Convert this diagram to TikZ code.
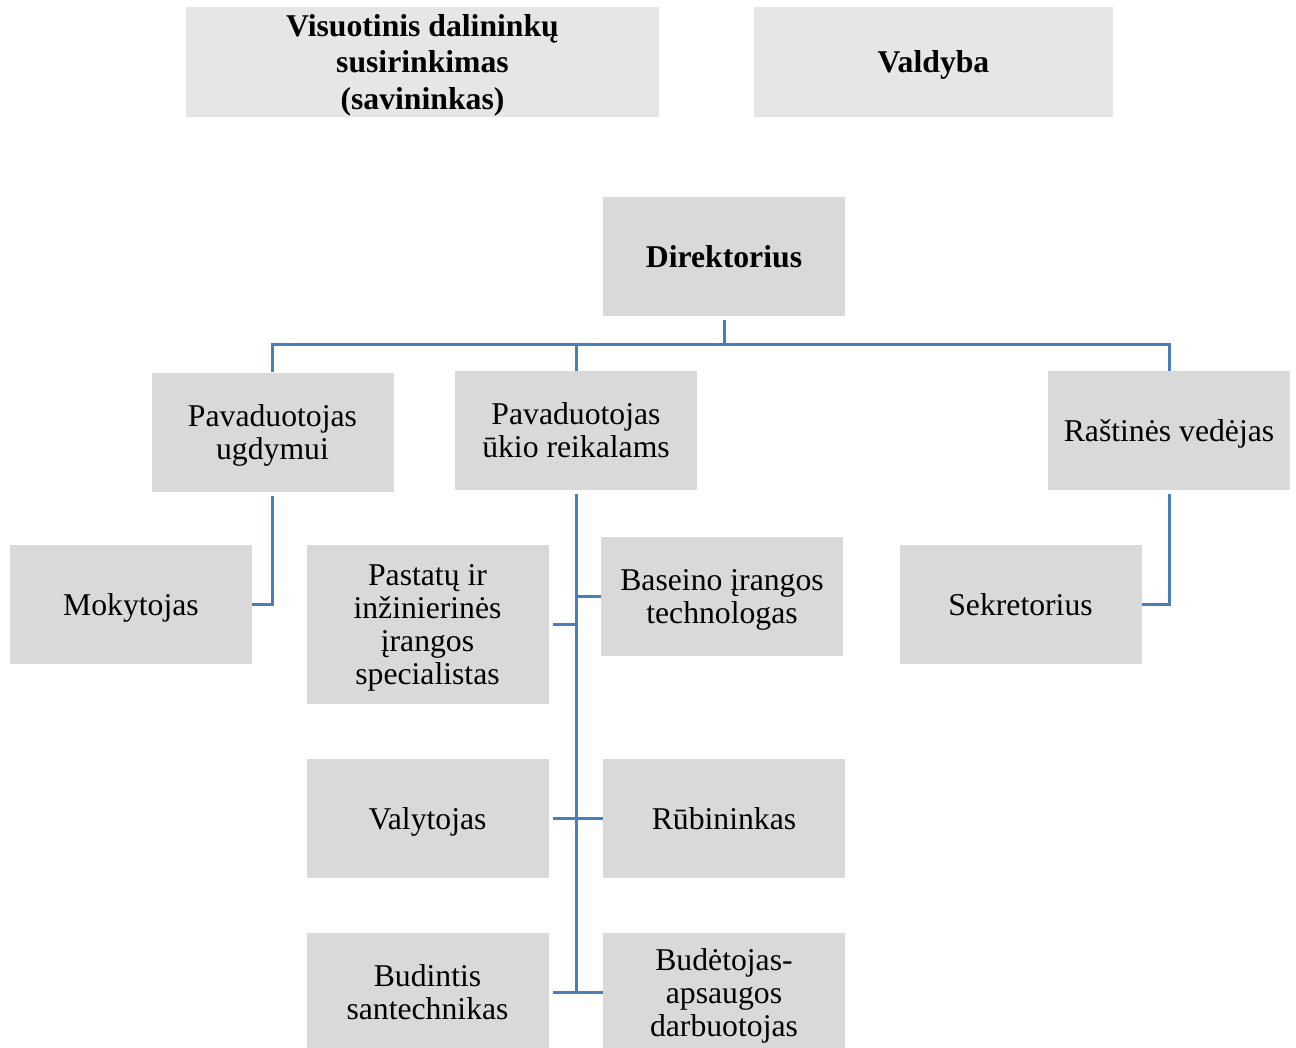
\documentclass[tikz,border=0pt]{standalone}
\usepackage{fontspec}
\setmainfont{Liberation Serif}
\definecolor{boxgray}{HTML}{D9D9D9}
\definecolor{topgray}{HTML}{E7E6E6}
\definecolor{linkblue}{HTML}{4A7EBB}
% line box of the font: ascent on the first line, descent on the last
\newcommand{\firstasc}{\rule{0pt}{0.891em}}
\newcommand{\lastdesc}{\rule[-0.216em]{0pt}{0.216em}}

\begin{document}
\begin{tikzpicture}[x=0.5pt,y=-0.5pt,
        box/.style={fill=boxgray, inner sep=0pt, align=flush center, text width=118pt,
            minimum width=121pt, minimum height=59.5pt,
            font=\fontsize{15.85}{16.5}\selectfont,
            execute at begin node=\firstasc, execute at end node=\lastdesc},
        topbox/.style={box, fill=topgray, minimum height=55pt, text width=220pt,
            font=\fontsize{15.85}{18.25}\selectfont\bfseries},
        link/.style={draw=linkblue, line width=1.5pt}]
        \useasboundingbox (0,0) rectangle (1296,1048);
        % top
        \node[topbox, minimum width=236.5pt] (vis) at (422.5,62) {Visuotinis dalininkų\\susirinkimas\\(savininkas)};
        \node[topbox, minimum width=179.5pt, text width=170pt] (val) at (933.5,62) {Valdyba};
        \node[box, font=\fontsize{15.85}{16.5}\selectfont\bfseries] (dir) at (724,256.5) {Direktorius};
        % second level
        \node[box] (ugd) at (272.5,432) {Pavaduotojas\\ugdymui};
        \node[box] (uki) at (576,430.5) {Pavaduotojas\\ūkio reikalams};
        \node[box] (ras) at (1169,430.5) {Raštinės vedėjas};
        % third level
        \node[box] (mok) at (131,604.5) {Mokytojas};
        \node[box, minimum height=79.5pt] (pas) at (427.5,624.5) {Pastatų ir\\inžinierinės\\įrangos\\specialistas};
        \node[box] (bas) at (722,596.5) {Baseino įrangos\\technologas};
        \node[box] (sek) at (1020.5,604.5) {Sekretorius};
        \node[box] (valy) at (427.5,818.5) {Valytojas};
        \node[box] (rub) at (724,818.5) {Rūbininkas};
        \node[box] (budi) at (427.5,992.5) {Budintis\\santechnikas};
        \node[box] (bude) at (724,992.5) {Budėtojas-\\apsaugos\\darbuotojas};
        % connectors
        \coordinate (bus) at (0,345);
        \draw[link, shorten <=2pt] (dir.south) -- (dir.south |- bus) -| (ugd.north);
        \draw[link] (dir.south |- bus) -| (uki.north);
        \draw[link] (dir.south |- bus) -| (ras.north);
        \draw[link, shorten <=2pt] (ugd.south) |- (mok.east);
        \draw[link, shorten <=2pt] (ras.south) |- (sek.east);
        \draw[link, shorten <=2pt] (uki.south) -- (uki.south |- budi);
        \draw[link] (uki.south |- bas.west) -- (bas.west);
        \draw[link, shorten <=2pt] (pas.east) -- (pas.east -| uki.south);
        \draw[link, shorten <=2pt] (valy.east) -- (rub.west);
        \draw[link, shorten <=2pt] (budi.east) -- (bude.west);
    \end{tikzpicture}
\end{document}
